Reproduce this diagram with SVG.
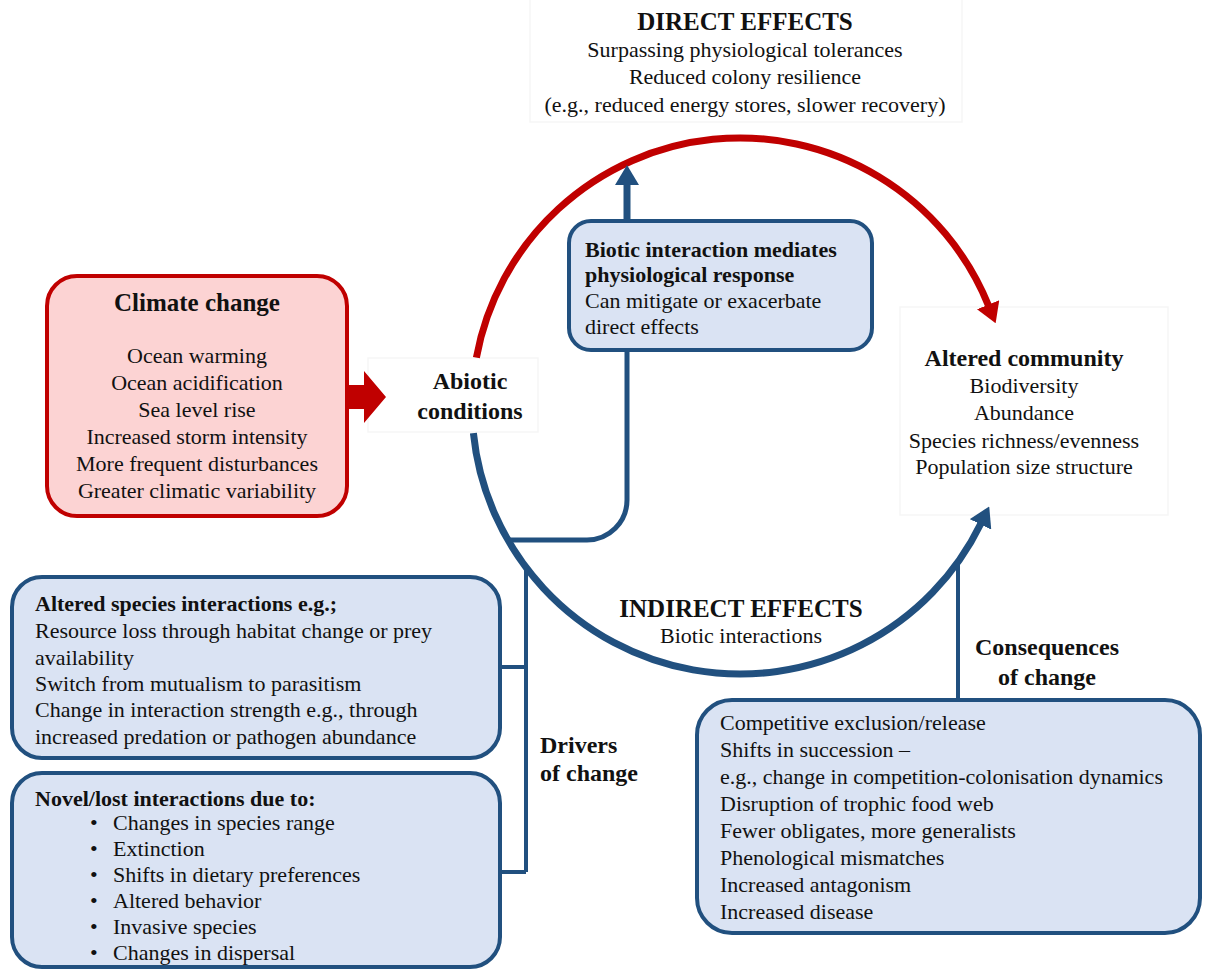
<svg xmlns="http://www.w3.org/2000/svg" width="1212" height="969" viewBox="0 0 1212 969">
<style>
text{font-family:"Liberation Serif","Times New Roman",serif;fill:#111;}
.r{font-size:22px;}
.b{font-size:22px;font-weight:bold;}
.h{font-size:25px;font-weight:bold;}
.c{text-anchor:middle;}
.blue{fill:#dae3f3;stroke:#21507f;stroke-width:4;}
.red{fill:#fcd3d3;stroke:#c00000;stroke-width:4;}
.ghost{fill:#fff;stroke:#f6f6f6;stroke-width:1.5;}
.bl{fill:none;stroke:#21507f;}
</style>
<defs>
<marker id="ah-red" markerUnits="userSpaceOnUse" viewBox="0 0 20 24" markerWidth="20" markerHeight="24" refX="1" refY="12" orient="auto"><path d="M0,0 L20,12 L0,24 Z" fill="#c00000"/></marker>
<marker id="ah-blue" markerUnits="userSpaceOnUse" viewBox="0 0 20 24" markerWidth="20" markerHeight="24" refX="1" refY="12" orient="auto"><path d="M0,0 L20,12 L0,24 Z" fill="#21507f"/></marker>
</defs>
<rect width="1212" height="969" fill="#fff"/>

<g id="ghost-boxes">
<rect x="530" y="-2" width="432" height="124" class="ghost"/>
<rect x="368" y="358" width="170" height="74" class="ghost"/>
<rect x="900" y="307" width="268" height="208" class="ghost"/>
</g>

<g id="connectors">
<path d="M476.4,357.6 A268,268 0 0 1 988.5,305.6" fill="none" stroke="#c00000" stroke-width="7" marker-end="url(#ah-red)"/>
<path d="M473.4,433.1 A268,268 0 0 0 980.9,523.5" class="bl" stroke-width="7" marker-end="url(#ah-blue)"/>
<path d="M627,220 L627,184" class="bl" stroke-width="7" marker-end="url(#ah-blue)"/>
<path d="M627,352 L627,500 A40,40 0 0 1 587,540 L508,540" class="bl" stroke-width="5"/>
<path d="M526,570 L526,872 M500,667 L526,667 M500,872 L526,872" class="bl" stroke-width="4"/>
<path d="M958,562 L958,700" class="bl" stroke-width="4"/>
<polygon points="347,385 364,385 364,371 386,397 364,423 364,409 347,409" fill="#c00000"/>
</g>

<g id="direct-effects">
<text x="745" y="30" class="h c">DIRECT EFFECTS</text>
<text x="745" y="57" class="r c">Surpassing physiological tolerances</text>
<text x="745" y="84" class="r c">Reduced colony resilience</text>
<text x="745" y="112" class="r c">(e.g., reduced energy stores, slower recovery)</text>
</g>

<g id="biotic-mediation">
<rect x="569" y="221" width="303" height="129" rx="22" class="blue"/>
<text x="585" y="257" class="b">Biotic interaction mediates</text>
<text x="585" y="282" class="b">physiological response</text>
<text x="585" y="308" class="r">Can mitigate or exacerbate</text>
<text x="585" y="334" class="r">direct effects</text>
</g>

<g id="climate-change">
<rect x="47" y="276" width="300" height="240" rx="30" class="red"/>
<text x="197" y="311" class="h c">Climate change</text>
<text x="197" y="363" class="r c">Ocean warming</text>
<text x="197" y="390" class="r c">Ocean acidification</text>
<text x="197" y="417" class="r c">Sea level rise</text>
<text x="197" y="444" class="r c">Increased storm intensity</text>
<text x="197" y="471" class="r c">More frequent disturbances</text>
<text x="197" y="498" class="r c">Greater climatic variability</text>
</g>

<g id="abiotic">
<text x="470" y="389" class="h c" style="font-size:24px">Abiotic</text>
<text x="470" y="419" class="h c" style="font-size:24px">conditions</text>
</g>

<g id="altered-community">
<text x="1024" y="366" class="h c" style="font-size:24px">Altered community</text>
<text x="1024" y="393" class="r c">Biodiversity</text>
<text x="1024" y="420" class="r c">Abundance</text>
<text x="1024" y="448" class="r c">Species richness/evenness</text>
<text x="1024" y="474" class="r c">Population size structure</text>
</g>

<g id="indirect-effects">
<text x="741" y="617" class="h c">INDIRECT EFFECTS</text>
<text x="741" y="643" class="r c">Biotic interactions</text>
</g>

<g id="altered-interactions">
<rect x="12" y="577" width="488" height="181" rx="30" class="blue"/>
<text x="35" y="611" class="b">Altered species interactions e.g.;</text>
<text x="35" y="638" class="r">Resource loss through habitat change or prey</text>
<text x="35" y="665" class="r">availability</text>
<text x="35" y="691" class="r">Switch from mutualism to parasitism</text>
<text x="35" y="717" class="r">Change in interaction strength e.g., through</text>
<text x="35" y="744" class="r">increased predation or pathogen abundance</text>
</g>

<g id="novel-interactions">
<rect x="12" y="773" width="488" height="194" rx="30" class="blue"/>
<text x="35" y="806" class="b">Novel/lost interactions due to:</text>
<text x="90" y="830" class="r">•</text><text x="113" y="830" class="r">Changes in species range</text>
<text x="90" y="856" class="r">•</text><text x="113" y="856" class="r">Extinction</text>
<text x="90" y="882" class="r">•</text><text x="113" y="882" class="r">Shifts in dietary preferences</text>
<text x="90" y="908" class="r">•</text><text x="113" y="908" class="r">Altered behavior</text>
<text x="90" y="934" class="r">•</text><text x="113" y="934" class="r">Invasive species</text>
<text x="90" y="960" class="r">•</text><text x="113" y="960" class="r">Changes in dispersal</text>
</g>

<g id="drivers-label">
<text x="540" y="753" class="h" style="font-size:24px">Drivers</text>
<text x="540" y="781" class="h" style="font-size:24px">of change</text>
</g>

<g id="consequences-label">
<text x="1047" y="655" class="h c" style="font-size:24px">Consequences</text>
<text x="1047" y="685" class="h c" style="font-size:24px">of change</text>
</g>

<g id="consequences">
<rect x="697" y="700" width="503" height="233" rx="35" class="blue"/>
<text x="720" y="730" class="r">Competitive exclusion/release</text>
<text x="720" y="757" class="r">Shifts in succession –</text>
<text x="720" y="784" class="r">e.g., change in competition-colonisation dynamics</text>
<text x="720" y="811" class="r">Disruption of trophic food web</text>
<text x="720" y="838" class="r">Fewer obligates, more generalists</text>
<text x="720" y="865" class="r">Phenological mismatches</text>
<text x="720" y="892" class="r">Increased antagonism</text>
<text x="720" y="919" class="r">Increased disease</text>
</g>
</svg>
